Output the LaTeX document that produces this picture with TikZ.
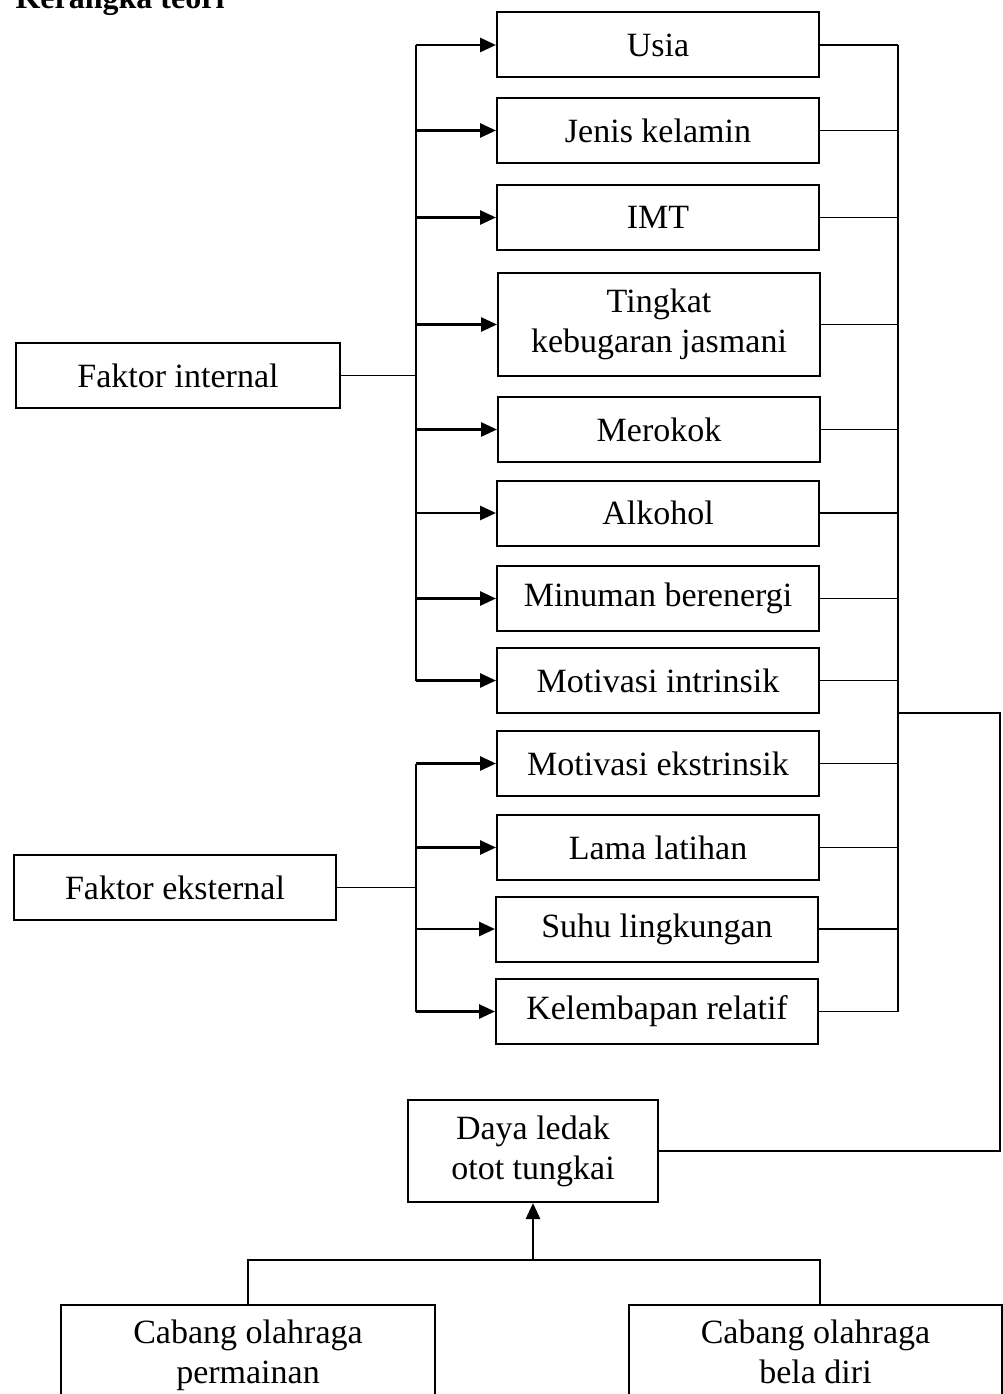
\documentclass[tikz,border=0pt]{standalone}
\usepackage{fontspec}
\setmainfont{Liberation Serif}
\usetikzlibrary{arrows.meta,positioning}
\tikzset{
  >={Triangle[length=16pt,width=14pt]},
  every node/.style={font=\fontsize{34}{40}\selectfont},
}

\begin{document}
\begin{tikzpicture}[
  x=1pt,y=-1pt,
  box/.style={draw, line width=2pt, minimum width=322pt, minimum height=65pt, inner sep=0pt, align=center},
  wire/.style={line width=1.8pt},
  bus/.style={line width=2.4pt},
  feed/.style={->, line width=2.8pt},
]
  \useasboundingbox (0,0) rectangle (1003,1394);
  \node[anchor=base west, font=\fontsize{32}{38}\selectfont\bfseries] (judul) at (12,9) {Kerangka teori};

  % faktor-faktor
  \node[box] (usia) at (658,45) {Usia};
  \node[box] (jenis) at (658,130.5) {Jenis kelamin};
  \node[box] (imt) at (658,217.5) {IMT};
  \node[box, minimum height=103pt] (tingkat) at (659,324.5) {Tingkat\\kebugaran jasmani};
  \node[box] (rokok) at (659,429.5) {Merokok};
  \node[box] (alkohol) at (658,513) {Alkohol};
  \node[box] (minum) at (658,598.5) {Minuman berenergi};
  \node[box] (motin) at (658,680.5) {Motivasi intrinsik};
  \node[box] (motex) at (658,763.5) {Motivasi ekstrinsik};
  \node[box] (lama) at (658,847.5) {Lama latihan};
  \node[box] (suhu) at (657,929) {Suhu lingkungan};
  \node[box] (lembap) at (657,1011.5) {Kelembapan relatif};

  \node[box, minimum width=324pt] (fint) at (178,375.5) {Faktor internal};
  \node[box] (fext) at (175,887.5) {Faktor eksternal};

  \node[box, minimum width=250pt, minimum height=102pt] (daya) at (533,1151) {Daya ledak\\otot tungkai};
  \node[box, minimum width=374pt, minimum height=100pt, anchor=north] (main) at (248,1304) {Cabang olahraga\\permainan};
  \node[box, minimum width=373pt, minimum height=100pt, anchor=north] (bela) at (815.5,1304) {Cabang olahraga\\bela diri\vphantom{p}};

  \coordinate (inbus) at (416,0);
  \coordinate (outbus) at (898,0);
  \coordinate (rim) at (1000,713);
  \coordinate (fork) at (533,1260);
  \coordinate (drop) at (820,1304);

  % internal
  \draw[wire] (fint.east) -- (fint.east -| inbus);
  \draw[bus] (usia.west -| inbus) -- (motin.west -| inbus);
  \foreach \n in {usia,jenis,imt,tingkat,rokok,alkohol,minum,motin}
    \draw[feed] (\n.west -| inbus) -- (\n.west);

  % eksternal
  \draw[wire] (fext.east) -- (fext.east -| inbus);
  \draw[bus] (motex.west -| inbus) -- (lembap.west -| inbus);
  \foreach \n in {motex,lama,suhu,lembap}
    \draw[feed] (\n.west -| inbus) -- (\n.west);

  % ke daya ledak
  \foreach \n in {usia,jenis,imt,tingkat,rokok,alkohol,minum,motin,motex,lama,suhu,lembap}
    \draw[wire] (\n.east) -- (\n.east -| outbus);
  \draw[bus] (usia.east -| outbus) -- (lembap.east -| outbus);
  \draw[bus, line width=2.8pt] (rim -| outbus) -- (rim) |- (daya.east);

  % cabang olahraga
  \draw[feed] (fork) -- (daya.south);
  \draw[wire] (main.north) |- (fork) -| (drop);
\end{tikzpicture}
\end{document}
